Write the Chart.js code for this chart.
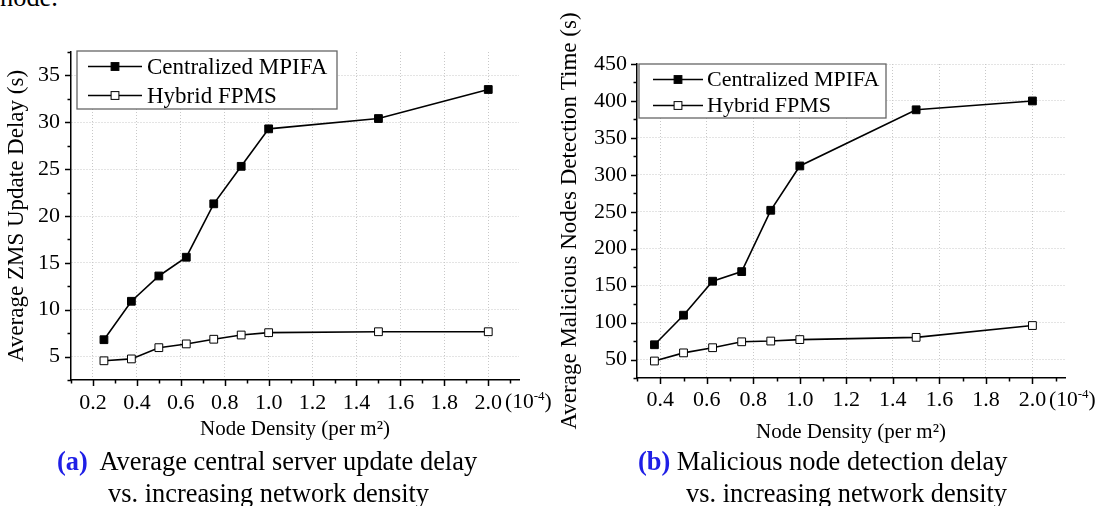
<!DOCTYPE html>
<html>
<head>
<meta charset="utf-8">
<script src="https://cdn.jsdelivr.net/npm/chart.js"></script>
<style>
  body { margin: 0; background: #fff; width: 1103px; height: 506px; overflow: hidden; position: relative;
         font-family: 'Liberation Serif', 'Times New Roman', serif; color: #000; }
  canvas { position: absolute; top: 0; }
  .txt { position: absolute; white-space: nowrap; }
  .cap { font-size: 26.4px; line-height: 30px; }
  .tag { color: #1f1fe6; font-weight: bold; }
  .exp { font-size: 21.5px; line-height: 25px; }
  .exp span { font-size: 13px; position: relative; top: -8px; }
</style>
</head>
<body>
<div class="txt cap" style="left:0;top:-18px;">node.</div>
<canvas id="chartA" width="552" height="450" style="left:0"></canvas>
<canvas id="chartB" width="551" height="450" style="left:552px"></canvas>
<div class="txt exp" style="left:505px;top:389px;">(10<span>-4</span>)</div>
<div class="txt exp" style="left:1049px;top:387px;">(10<span>-4</span>)</div>
<div class="txt cap" style="left:57px;top:446px;"><span class="tag">(a)</span>&nbsp; Average central server update delay</div>
<div class="txt cap" style="left:108px;top:478px;">vs. increasing network density</div>
<div class="txt cap" style="left:638px;top:446px;"><span class="tag">(b)</span> Malicious node detection delay</div>
<div class="txt cap" style="left:686px;top:478px;">vs. increasing network density</div>
<script>
// figure (a): ZMS update delay
const densityA = [0.25, 0.375, 0.5, 0.625, 0.75, 0.875, 1.0, 1.5, 2.0];
const centralA = [6.8, 10.9, 13.6, 15.6, 21.3, 25.3, 29.3, 30.4, 33.5];
const hybridA = [4.55, 4.75, 5.95, 6.35, 6.85, 7.3, 7.55, 7.65, 7.65];
const xTicksA = [0.2, 0.4, 0.6, 0.8, 1.0, 1.2, 1.4, 1.6, 1.8, 2.0];
const yTicksA = [5, 10, 15, 20, 25, 30, 35];

// figure (b): malicious node detection time
const densityB = [0.375, 0.5, 0.625, 0.75, 0.875, 1.0, 1.5, 2.0];
const centralB = [70, 110, 156, 169, 252, 312, 388, 400];
const hybridB = [48, 59, 66, 74, 75, 77, 80, 96];
const xTicksB = [0.4, 0.6, 0.8, 1.0, 1.2, 1.4, 1.6, 1.8, 2.0];
const yTicksB = [50, 100, 150, 200, 250, 300, 350, 400, 450];

const seriesNames = ["Centralized MPIFA", "Hybrid FPMS"];

Chart.defaults.font.family = "'Liberation Serif', 'Times New Roman', serif";
Chart.defaults.color = "#000";

function points(xs, ys) {
    return xs.map((x, i) => ({ x: x, y: ys[i] }));
}

function square(ctx, x, y, half, fill) {
    ctx.fillStyle = fill;
    ctx.fillRect(x - half, y - half, half * 2, half * 2);
    ctx.strokeRect(x - half, y - half, half * 2, half * 2);
}

// axis tick marks (major + minor), pointing outwards
const tickMarks = {
    id: "tickMarks",
    afterDraw(chart, args, o) {
        const ctx = chart.ctx;
        const xs = chart.scales.x, ys = chart.scales.y;
        const area = chart.chartArea;
        ctx.save();
        ctx.strokeStyle = "#000";
        ctx.lineWidth = 1.5;
        ctx.beginPath();
        for (let v = xs.min; v <= xs.max + 1e-9; v += o.xMinor) {
            const px = Math.round(xs.getPixelForValue(v)) + 0.5;
            const major = Math.abs(v / o.xMajor - Math.round(v / o.xMajor)) < 1e-6;
            ctx.moveTo(px, area.bottom);
            ctx.lineTo(px, area.bottom + (major ? 6 : 3.5));
        }
        for (let v = ys.min; v <= ys.max + 1e-9; v += o.yMinor) {
            const py = Math.round(ys.getPixelForValue(v)) + 0.5;
            const major = Math.abs(v / o.yMajor - Math.round(v / o.yMajor)) < 1e-6;
            ctx.moveTo(area.left, py);
            ctx.lineTo(area.left - (major ? 6 : 3.5), py);
        }
        ctx.stroke();
        ctx.restore();
    }
};

// boxed legend inside the plot
const boxLegend = {
    id: "boxLegend",
    afterDraw(chart, args, o) {
        const ctx = chart.ctx;
        ctx.save();
        ctx.fillStyle = "#fff";
        ctx.strokeStyle = "#666";
        ctx.lineWidth = 1.3;
        ctx.fillRect(o.x, o.y, o.w, o.h);
        ctx.strokeRect(o.x, o.y, o.w, o.h);
        ctx.font = o.size + "px 'Liberation Serif', 'Times New Roman', serif";
        ctx.textBaseline = "middle";
        chart.data.datasets.forEach((ds, i) => {
            const y = o.row0 + i * o.gap;
            ctx.strokeStyle = "#000";
            ctx.lineWidth = 1.6;
            ctx.beginPath();
            ctx.moveTo(o.l0, y);
            ctx.lineTo(o.l1, y);
            ctx.stroke();
            ctx.lineWidth = 1;
            square(ctx, (o.l0 + o.l1) / 2, y, 3.9, ds.pointBackgroundColor);
            ctx.fillStyle = "#000";
            ctx.fillText(ds.label, o.tx, y + 1);
        });
        ctx.restore();
    }
};

function makeChart(id, cfg) {
    const lineStyle = (label, data, fill) => ({
        label: label,
        data: data,
        borderColor: "#000",
        borderWidth: 1.6,
        pointStyle: "rect",
        pointRadius: 5.5,
        pointBorderWidth: 1,
        pointBorderColor: "#000",
        pointBackgroundColor: fill,
        tension: 0
    });
    return new Chart(document.getElementById(id), {
        type: "line",
        data: {
            datasets: [
                lineStyle(seriesNames[0], points(cfg.xs, cfg.central), "#000"),
                lineStyle(seriesNames[1], points(cfg.xs, cfg.hybrid), "#fff")
            ]
        },
        options: {
            responsive: false,
            animation: false,
            devicePixelRatio: 1,
            layout: { padding: cfg.pad },
            plugins: {
                legend: { display: false },
                tooltip: { enabled: false },
                tickMarks: cfg.marks,
                boxLegend: cfg.legend
            },
            scales: {
                x: {
                    type: "linear",
                    min: cfg.xMin, max: cfg.xMax,
                    afterBuildTicks: s => { s.ticks = cfg.xTicks.map(v => ({ value: v })); },
                    afterFit: s => { s.height = cfg.xH; },
                    ticks: { font: { size: 22 }, padding: cfg.xPad, maxRotation: 0, autoSkip: false,
                             callback: v => v.toFixed(1) },
                    grid: { color: "#c8c8c8", drawTicks: false, lineWidth: 1 },
                    border: { color: "#000", width: 1.5, dash: [1, 2] },
                    title: { display: true, text: "Node Density (per m²)", font: { size: 21 },
                             padding: { top: 0, bottom: cfg.xTitlePad } }
                },
                y: {
                    min: cfg.yMin, max: cfg.yMax,
                    afterBuildTicks: s => { s.ticks = cfg.yTicks.map(v => ({ value: v })); },
                    afterFit: s => { s.width = cfg.yW; },
                    ticks: { font: { size: 22 }, padding: cfg.yPad, autoSkip: false },
                    grid: { color: "#c8c8c8", drawTicks: false, lineWidth: 1 },
                    border: { color: "#000", width: 1.5, dash: [1, 2] },
                    title: { display: true, text: cfg.yTitle, font: { size: 23 },
                             padding: { top: cfg.yTitlePad, bottom: 0 } }
                }
            }
        },
        plugins: [tickMarks, boxLegend]
    });
}

makeChart("chartA", {
    xs: densityA, central: centralA, hybrid: hybridA,
    xTicks: xTicksA, yTicks: yTicksA,
    xMin: 0.1, xMax: 2.14, yMin: 2.5, yMax: 37.5,
    pad: { left: 0, top: 52, right: 33, bottom: 0 },
    xH: 70, yW: 71, xPad: 10, yPad: 11, xTitlePad: 8, yTitlePad: 3,
    yTitle: "Average ZMS Update Delay (s)",
    marks: { xMinor: 0.1, xMajor: 0.2, yMinor: 2.5, yMajor: 5 },
    legend: { x: 77, y: 51, w: 260, h: 58, l0: 88, l1: 142, tx: 147, row0: 66.5, gap: 29, size: 23 }
});

makeChart("chartB", {
    xs: densityB, central: centralB, hybrid: hybridB,
    xTicks: xTicksB, yTicks: yTicksB,
    xMin: 0.3, xMax: 2.14, yMin: 25, yMax: 450,
    pad: { left: 0, top: 64, right: 38, bottom: 0 },
    xH: 72, yW: 85, xPad: 9, yPad: 10, xTitlePad: 5, yTitlePad: 4,
    yTitle: "Average Malicious Nodes Detection Time (s)",
    marks: { xMinor: 0.1, xMajor: 0.2, yMinor: 25, yMajor: 50 },
    legend: { x: 87, y: 64, w: 247, h: 54, l0: 101, l1: 151, tx: 155, row0: 79.5, gap: 26, size: 22 }
});
</script>
</body>
</html>
